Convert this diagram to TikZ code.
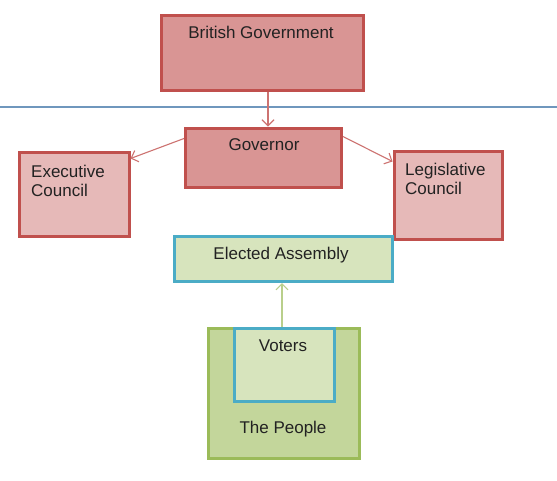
\documentclass[tikz,border=0pt]{standalone}
\usepackage{fontspec}
\setmainfont{Liberation Sans}
\usetikzlibrary{arrows.meta}
\definecolor{redfill}{HTML}{D99594}
\definecolor{lightred}{HTML}{E6B9B8}
\definecolor{redline}{HTML}{C0504D}
\definecolor{greenfill}{HTML}{D7E4BD}
\definecolor{peoplefill}{HTML}{C3D69B}
\definecolor{greenline}{HTML}{9BBB59}
\definecolor{aqualine}{HTML}{4BACC6}
\definecolor{sepline}{HTML}{6F97BD}
\definecolor{txt}{HTML}{222222}
\tikzset{
  box/.style={draw, line width=3pt, inner sep=0pt, minimum width=#1},
  redbox/.style={box=#1, fill=redfill, draw=redline},
  pinkbox/.style={box=#1, fill=lightred, draw=redline},
  label txt/.style={text=txt, font=\fontsize{17}{20}\selectfont, inner sep=0pt},
  rarrow/.style={draw=redline!80, line width=1.1pt, -{Straight Barb[length=6pt,width=12pt]}},
  garrow/.style={draw=greenline!70, line width=1.1pt, -{Straight Barb[length=6pt,width=12pt]}}
}
\begin{document}
\begin{tikzpicture}[x=1pt,y=-1pt]
\useasboundingbox (0,0) rectangle (557,480);
\fill[white] (0,0) rectangle (557,480);
% separator
\coordinate (sepL) at (0,107);
\coordinate (sepR) at (557,107);
\draw[sepline, line width=1.2pt] (sepL) -- (sepR);
% boxes
\node[redbox=202pt, minimum height=75pt] (BG) at (262,52.5) {};
\node[redbox=156pt, minimum height=59pt] (Gov) at (263.5,157.5) {};
\node[pinkbox=110pt, minimum height=84pt] (Exec) at (74,194) {};
\node[pinkbox=108pt, minimum height=88pt] (Legis) at (448,195) {};
\node[box=218pt, minimum height=45pt, fill=greenfill, draw=aqualine] (EA) at (283,259) {};
\node[box=151pt, minimum height=130pt, fill=peoplefill, draw=greenline] (People) at (283.5,393) {};
\node[box=100pt, minimum height=73pt, fill=greenfill, draw=aqualine] (Voters) at (284,364.5) {};
% texts
\node[label txt] (tBG) at (261,32) {British Government};
\node[label txt] (tGov) at (264,145) {Governor};
\node[label txt, anchor=west, align=left] (tExec) at (31,180.5) {Executive\\[-1pt]Council};
\node[label txt, anchor=west, align=left] (tLegis) at (405,179) {Legislative\\[-1pt]Council};
\node[label txt] (tEA) at (281,255) {Elected Assembly};
\node[label txt] (tVoters) at (283,346) {Voters};
\node[label txt] (tPeople) at (283,429) {The People};
% arrows
\draw[rarrow] ([xshift=6pt]BG.south) -- ([xshift=4.5pt]Gov.north);
\draw[rarrow] ([yshift=-12pt]Gov.north west) -- ([yshift=-8pt]Exec.north east);
\draw[rarrow] ([yshift=-10pt]Gov.north east) -- ([yshift=-12pt]Legis.north west);
\draw[garrow] ([xshift=-2pt]Voters.north) -- ([xshift=-1pt]EA.south);
\end{tikzpicture}
\end{document}
